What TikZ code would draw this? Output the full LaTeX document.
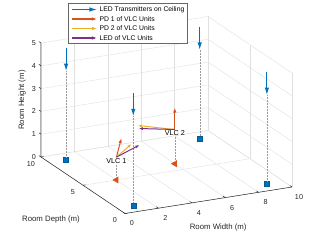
\documentclass[tikz,border=0pt]{standalone}
\usepackage{fontspec}
\setmainfont{Liberation Sans}
\usetikzlibrary{arrows.meta,shapes.geometric}

\definecolor{mblue}{rgb}{0,0.447,0.741}
\definecolor{morange}{rgb}{0.85,0.325,0.098}
\definecolor{myellow}{rgb}{0.929,0.694,0.125}
\definecolor{mpurple}{rgb}{0.494,0.184,0.556}
\definecolor{axisgray}{gray}{0.15}
\definecolor{gridgray}{gray}{0.88}

\tikzset{
  gridline/.style={gridgray, line width=0.4pt},
  axisline/.style={axisgray, line width=0.5pt},
  ticklabel/.style={font=\fontsize{7.2}{8}\selectfont, text=axisgray, inner sep=0pt},
  axislabel/.style={font=\fontsize{7.8}{9}\selectfont, text=axisgray, inner sep=0pt},
  legendtext/.style={font=\fontsize{6.8}{8}\selectfont, text=black, anchor=west, inner sep=2pt},
  ledarrow/.style={mblue, line width=1.1pt, -{Latex[length=7.5pt,width=4.5pt]}},
  pdonearrow/.style={morange, line width=1pt, -{Latex[length=5pt,width=3.5pt]}},
  pdtwoarrow/.style={myellow, line width=1pt, -{Latex[length=4pt,width=3pt]}},
  vlcledarrow/.style={mpurple, line width=1pt, -{Latex[length=4pt,width=3pt]}},
  drop/.style={gray!80, line width=0.35pt, dash pattern=on 0.5pt off 1pt},
  ledmark/.style={rectangle, draw=mblue!80!black, line width=0.3pt, fill=mblue, minimum size=5pt, inner sep=0pt},
  vlcmark/.style={isosceles triangle, isosceles triangle stretches, shape border rotate=180,
    fill=morange, minimum height=6pt, minimum width=7pt, inner sep=0pt},
  vlclabel/.style={font=\fontsize{7.2}{8}\selectfont, text=black, inner sep=1pt, below},
}

\begin{document}
\begin{tikzpicture}[x={(16.7pt,2.65pt)}, y={(-8.4pt,5.65pt)}, z={(0pt,22.8pt)}]
\useasboundingbox (-125pt,-27.5pt) rectangle (196pt,213.5pt);

% grid on back walls and floor
\foreach \w in {0,2,...,10} {
  \draw[gridline] (\w,10,0) -- (\w,10,5);
  \draw[gridline] (\w,0,0) -- (\w,10,0);
}
\foreach \d in {0,5,10} {
  \draw[gridline] (10,\d,0) -- (10,\d,5);
  \draw[gridline] (0,\d,0) -- (10,\d,0);
}
\foreach \h in {0,...,5}
  \draw[gridline] (0,10,\h) -- (10,10,\h) -- (10,0,\h);

% axes
\draw[axisline] (0,10,5) -- (0,10,0) -- (0,0,0) -- (10,0,0);
\foreach \h in {0,...,5} {
  \draw[axisline] (0,10,\h) -- (0,10.25,\h);
  \node[ticklabel, anchor=east, xshift=-5pt] at (0,10,\h) {\h};
}
\foreach \d in {0,5,10} {
  \draw[axisline] (0,\d,0) -- (0.15,\d,0);
  \node[ticklabel, xshift=-10pt, yshift=-7pt] at (0,\d,0) {\d};
}
\foreach \w in {0,2,...,10} {
  \draw[axisline] (\w,0,0) -- (\w,0.25,0);
  \node[ticklabel, xshift=7pt, yshift=-10pt] at (\w,0,0) {\w};
}
\node[axislabel] (widthlabel) at ([xshift=-7pt,yshift=-30pt]6,0,0) {Room Width (m)};
\node[axislabel] (depthlabel) at ([xshift=-32pt,yshift=-34.5pt]0,5,0) {Room Depth (m)};
\node[axislabel, rotate=90] (heightlabel) at ([xshift=-19pt]0,10,2.5) {Room Height (m)};

% LED transmitters on the ceiling
\foreach \px/\py [count=\i] in {1/9,1/1,9/9,9/1} {
  \coordinate (tx\i) at (\px,\py,4.9);
  \coordinate (tip\i) at (\px,\py,3.9);
  \node[ledmark] (spot\i) at (\px,\py,0) {};
  \draw[drop] (tip\i) -- (spot\i);
  \draw[ledarrow] (tx\i) -- (tip\i);
}

% VLC 1
\coordinate (vlc1) at (2,5,1);
\node[vlcmark] (base1) at (2,5,0) {};
\node[vlclabel] (vlcname1) at (vlc1) {VLC 1};
\draw[drop] (vlcname1) -- (base1);
\draw[pdonearrow] (vlc1) -- ++(0.3,0,0.8);
\draw[pdtwoarrow] (vlc1) -- ++(0.9,0,0.47);
\draw[vlcledarrow] (vlc1) -- ++(1.38,0,0.37);

% VLC 2
\coordinate (vlc2) at (6,6,1.5);
\node[vlcmark] (base2) at (6,6,0) {};
\node[vlclabel] (vlcname2) at (vlc2) {VLC 2};
\draw[drop] (vlcname2) -- (base2);
\draw[pdonearrow] (vlc2) -- ++(0,0,0.96);
\draw[pdtwoarrow] (vlc2) -- ++(-1.5,1.41,0);
\draw[vlcledarrow] (vlc2) -- ++(-1.67,0.96,0);

% legend
\node[draw=axisgray!70, line width=0.5pt, fill=white, minimum width=119pt, minimum height=40pt,
  anchor=north west, inner sep=0pt] (legend) at (-57pt,210.5pt) {};
\draw[ledarrow] ([shift={(4pt,-6.5pt)}]legend.north west) -- ++(25pt,0pt)
  node[legendtext] (key1) {LED Transmitters on Ceiling};
\draw[pdonearrow, line width=1.1pt] ([shift={(4pt,-16pt)}]legend.north west) -- ++(25pt,0pt)
  node[legendtext] (key2) {PD 1 of VLC Units};
\draw[pdtwoarrow, line width=1.1pt, -{Latex[length=5pt,width=3.5pt]}] ([shift={(4pt,-25.5pt)}]legend.north west) -- ++(25pt,0pt)
  node[legendtext] (key3) {PD 2 of VLC Units};
\draw[vlcledarrow, line width=1.1pt, -{Latex[length=5pt,width=3.5pt]}] ([shift={(4pt,-35pt)}]legend.north west) -- ++(25pt,0pt)
  node[legendtext] (key4) {LED of VLC Units};
\end{tikzpicture}
\end{document}
